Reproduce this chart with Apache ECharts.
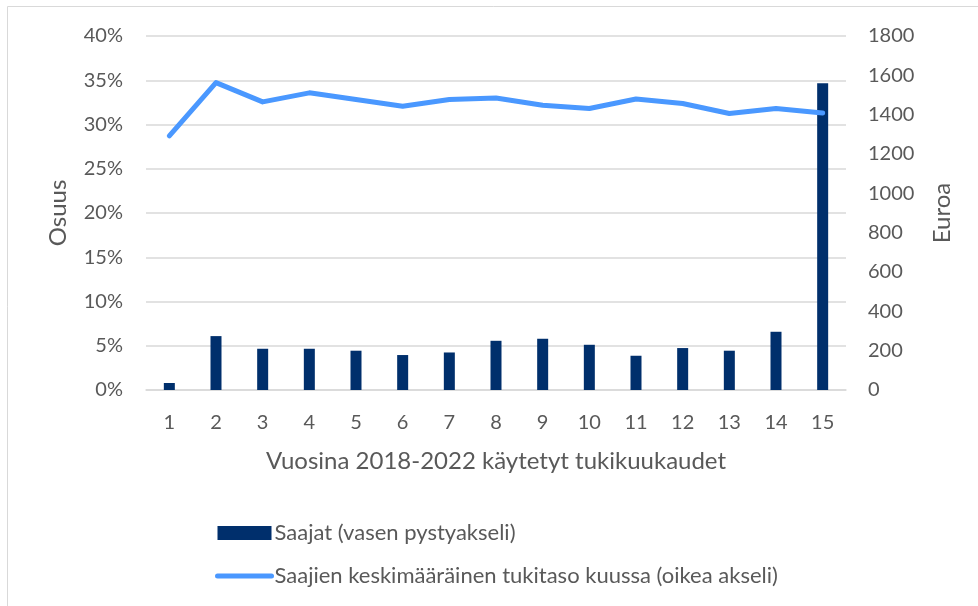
<!DOCTYPE html>
<html>
<head>
<meta charset="utf-8">
<script src="https://cdn.jsdelivr.net/npm/echarts@6/dist/echarts.min.js"></script>
<style>
  html, body { margin: 0; padding: 0; background: #fff; }
  #chart { width: 978px; height: 606px; }
</style>
</head>
<body>
<div id="chart"></div>
<script>
// tukikuukaudet 1..15
const months = ['1', '2', '3', '4', '5', '6', '7', '8', '9', '10', '11', '12', '13', '14', '15']
// saajien osuus (vasen akseli)
const share = [0.0079, 0.0609, 0.0466, 0.0466, 0.0444, 0.0395, 0.0424, 0.0556, 0.0579, 0.0511, 0.0387, 0.0474, 0.0444, 0.0658, 0.3465]
// keskimääräinen tukitaso kuussa, euroa (oikea akseli)
const avgLevel = [1292, 1563, 1465, 1511, 1477, 1443, 1477, 1485, 1448, 1431, 1480, 1457, 1406, 1431, 1408]

const textColor = '#595959'
const font = 'Lato'
const barName = 'Saajat (vasen pystyakseli)'
const lineName = 'Saajien keskimääräinen tukitaso kuussa (oikea akseli)'

const chart = echarts.init(document.getElementById('chart'))
chart.setOption({
  animation: false,
  textStyle: { fontFamily: font, color: textColor },
  graphic: [{
    type: 'rect',
    shape: { x: 7.5, y: 6.5, width: 1000, height: 1000 },
    style: { fill: 'none', stroke: '#d9d9d9', lineWidth: 1 },
    silent: true
  }],
  grid: {
    left: 146,
    right: 132,
    top: 36,
    bottom: 216
  },
  legend: {
    orient: 'vertical',
    left: 210,
    top: 517,
    itemWidth: 54,
    itemHeight: 14,
    itemGap: 21,
    textStyle: { fontFamily: font, fontSize: 22, color: textColor, padding: [0, 0, 0, -2] },
    data: [
      { name: barName, icon: 'rect' },
      { name: lineName, itemStyle: { opacity: 0 }, lineStyle: { width: 5, cap: 'round' } }
    ]
  },
  xAxis: {
    type: 'category',
    data: months,
    name: 'Vuosina 2018-2022 käytetyt tukikuukaudet',
    nameLocation: 'middle',
    nameGap: 59,
    nameTextStyle: { fontFamily: font, fontSize: 24, color: textColor },
    axisLine: { lineStyle: { color: '#d9d9d9', width: 1.5 } },
    axisTick: { show: false },
    axisLabel: { fontFamily: font, fontSize: 20, color: textColor, margin: 23 }
  },
  yAxis: [{
    type: 'value',
    min: 0,
    max: 0.4,
    interval: 0.05,
    name: 'Osuus',
    nameLocation: 'middle',
    nameGap: 76,
    nameTextStyle: { fontFamily: font, fontSize: 24, color: textColor },
    axisLine: { show: false },
    axisTick: { show: false },
    axisLabel: {
      fontFamily: font,
      fontSize: 20,
      color: textColor,
      margin: 23,
      formatter: function (v) { return Math.round(v * 100) + '%' }
    },
    splitLine: { lineStyle: { color: '#d9d9d9', width: 1.5 } }
  }, {
    type: 'value',
    min: 0,
    max: 1800,
    interval: 200,
    name: 'Euroa',
    nameLocation: 'middle',
    nameGap: 84,
    nameTextStyle: { fontFamily: font, fontSize: 24, color: textColor },
    axisLine: { show: false },
    axisTick: { show: false },
    axisLabel: {
      fontFamily: font,
      fontSize: 20,
      color: textColor,
      margin: 22,
      formatter: function (v) { return String(v) }
    },
    splitLine: { show: false }
  }],
  series: [{
    name: barName,
    type: 'bar',
    yAxisIndex: 0,
    barWidth: 11,
    itemStyle: { color: '#002F6C' },
    data: share
  }, {
    name: lineName,
    type: 'line',
    yAxisIndex: 1,
    symbol: 'none',
    lineStyle: { color: '#4A98FF', width: 5, cap: 'round', join: 'round' },
    itemStyle: { color: '#4A98FF' },
    data: avgLevel
  }]
})
</script>
</body>
</html>
